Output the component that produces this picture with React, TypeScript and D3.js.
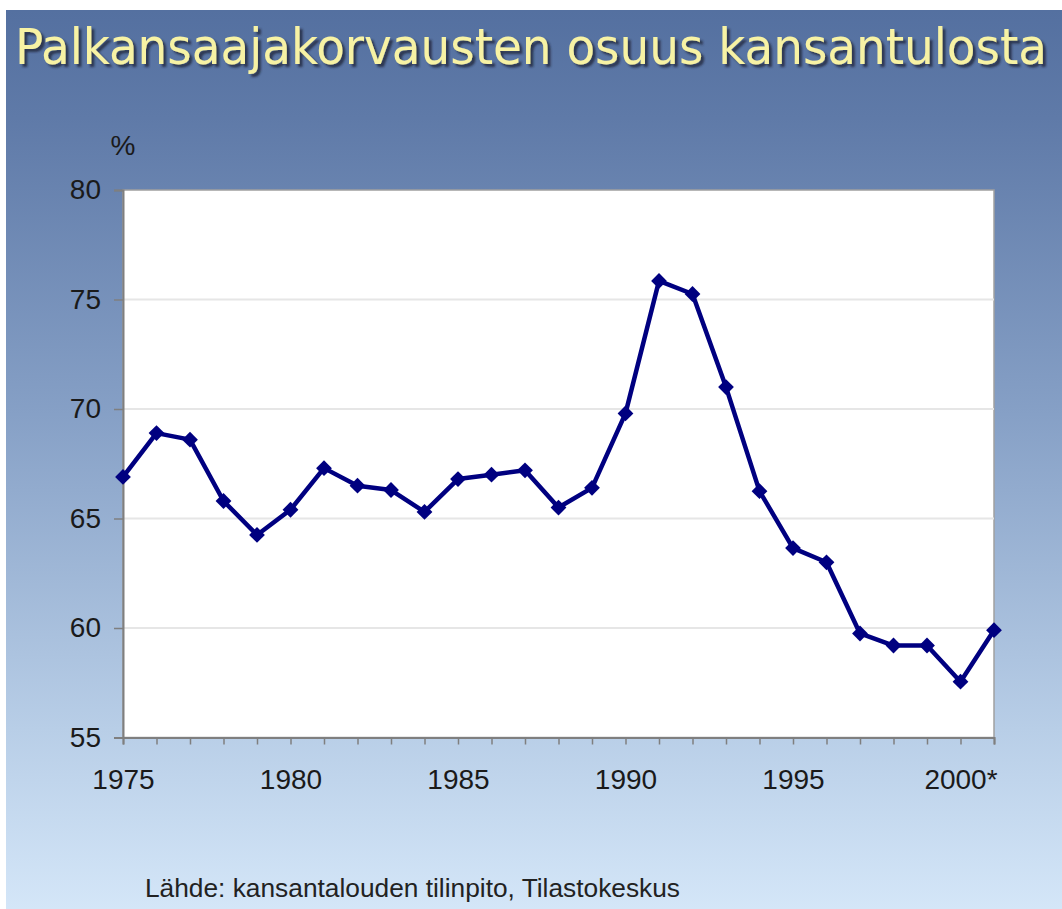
import React, { useEffect, useRef } from "react";
import * as d3 from "d3";

const years = [
  1975, 1976, 1977, 1978, 1979, 1980, 1981, 1982, 1983, 1984, 1985, 1986, 1987, 1988,
  1989, 1990, 1991, 1992, 1993, 1994, 1995, 1996, 1997, 1998, 1999, 2000, 2001,
];
const share = [
  66.9, 68.9, 68.6, 65.8, 64.25, 65.4, 67.3, 66.5, 66.3, 65.3, 66.8, 67.0, 67.2, 65.5,
  66.4, 69.8, 75.85, 75.25, 71.0, 66.25, 63.65, 63.0, 59.75, 59.2, 59.2, 57.55, 59.9,
];
const yTicks = [55, 60, 65, 70, 75, 80];
const labelYears = [1975, 1980, 1985, 1990, 1995, 2000];
const labelTexts = ["1975", "1980", "1985", "1990", "1995", "2000*"];

const title = "Palkansaajakorvausten osuus kansantulosta";
const source = "Lähde: kansantalouden tilinpito, Tilastokeskus";

const W = 1062, H = 909;
const plot = { left: 123, right: 994, top: 190, bottom: 737.5 };

export default function App() {
  const xAxisRef = useRef<SVGGElement>(null);
  const yAxisRef = useRef<SVGGElement>(null);

  const x = d3.scalePoint<number>().domain(years).range([plot.left, plot.right]);
  const y = d3.scaleLinear().domain([55, 80]).range([plot.bottom, plot.top]);

  useEffect(() => {
    document.body.style.margin = "0";

    const xAxis = d3
      .axisBottom(x)
      .tickSize(7)
      .tickPadding(25)
      .tickFormat((d) => {
        const i = labelYears.indexOf(d as number);
        return i >= 0 ? labelTexts[i] : "";
      });
    const yAxis = d3.axisLeft(y).tickValues(yTicks).tickSize(9).tickPadding(13);

    const gx = d3.select(xAxisRef.current!);
    gx.selectAll("*").remove();
    gx.call(xAxis);
    const gy = d3.select(yAxisRef.current!);
    gy.selectAll("*").remove();
    gy.call(yAxis);

    [gx, gy].forEach((g) => {
      g.select(".domain").attr("stroke", "#7f7f7f").attr("stroke-width", 2);
      g.selectAll(".tick line").attr("stroke", "#7f7f7f").attr("stroke-width", 1.5);
      g.selectAll(".tick text")
        .attr("fill", "#1a1a1a")
        .style("font-family", "Liberation Sans, Arial, sans-serif")
        .style("font-size", "28px");
    });
  }, []);

  const line = d3
    .line<number>()
    .x((_, i) => x(years[i])!)
    .y((d) => y(d));

  const diamond = d3.symbol().type(d3.symbolSquare).size(125)();

  return (
    <svg width={W} height={H} style={{ position: "absolute", left: 0, top: 0 }}>
      <defs>
        <linearGradient id="bg" x1="0" y1="0" x2="0" y2="1">
          <stop offset="0" stopColor="#5470a0" />
          <stop offset="0.12" stopColor="#5f7aa8" />
          <stop offset="0.45" stopColor="#86a0c6" />
          <stop offset="0.8" stopColor="#b8cee7" />
          <stop offset="1" stopColor="#d4e6f8" />
        </linearGradient>
        <filter id="shadow" x="-5%" y="-20%" width="110%" height="150%">
          <feDropShadow dx={3} dy={3} stdDeviation={0.8} floodColor="#23283a" floodOpacity={0.8} />
        </filter>
      </defs>
      <rect width={W} height={H} fill="#fff" />
      <rect x={6} y={10} width={W - 6} height={H - 10} fill="url(#bg)" />

      <text
        x={15}
        y={64}
        fill="#f7f2a4"
        filter="url(#shadow)"
        textLength={1032}
        lengthAdjust="spacingAndGlyphs"
        style={{ fontFamily: "DejaVu Sans Condensed, DejaVu Sans, sans-serif", fontSize: 50 }}
      >
        {title}
      </text>

      <rect
        x={plot.left}
        y={plot.top}
        width={plot.right - plot.left}
        height={plot.bottom - plot.top}
        fill="#fff"
        stroke="#a0a0a0"
        strokeWidth={1.5}
      />
      {yTicks.slice(1, -1).map((t) => (
        <line key={t} x1={plot.left} x2={plot.right} y1={y(t)} y2={y(t)} stroke="#e6e6e6" strokeWidth={2} />
      ))}

      <g ref={xAxisRef} transform={`translate(0,${plot.bottom})`} />
      <g ref={yAxisRef} transform={`translate(${plot.left},0)`} />

      <text
        x={plot.left}
        y={155}
        textAnchor="middle"
        fill="#1a1a1a"
        style={{ fontFamily: "Liberation Sans, Arial, sans-serif", fontSize: 28 }}
      >
        %
      </text>

      <path d={line(share)!} fill="none" stroke="#000080" strokeWidth={4.5} strokeLinejoin="round" />
      {share.map((v, i) => (
        <path
          key={years[i]}
          d={diamond!}
          transform={`translate(${x(years[i])},${y(v)}) rotate(45)`}
          fill="#000080"
        />
      ))}

      <text
        x={145}
        y={897}
        fill="#222"
        textLength={535}
        lengthAdjust="spacingAndGlyphs"
        style={{ fontFamily: "Liberation Sans, Arial, sans-serif", fontSize: 25 }}
      >
        {source}
      </text>
    </svg>
  );
}
